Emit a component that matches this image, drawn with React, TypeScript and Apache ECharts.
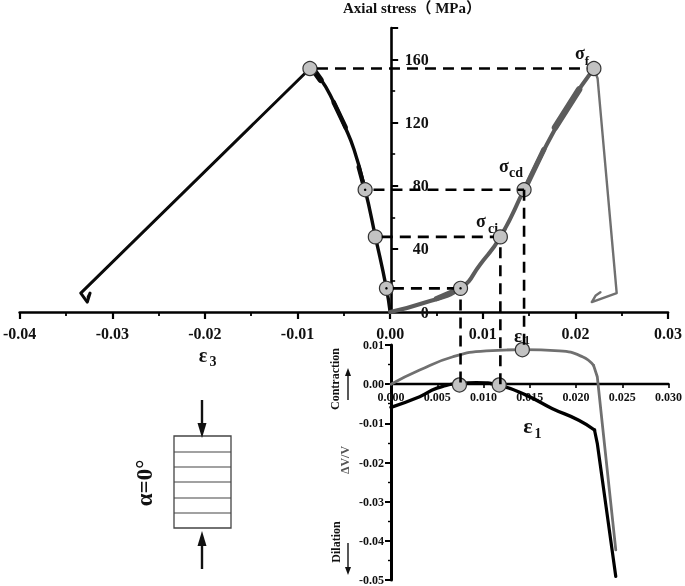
import React, { useEffect, useRef } from "react";
import * as echarts from "echarts";

const FONT = '"Liberation Serif", "Noto Sans CJK SC", serif';

// upper panel: axial stress (MPa) vs strain
const eps3Rise: number[][] = [[0, 0], [-0.0004, 15], [-0.0016, 48], [-0.0027, 77.5], [-0.0039, 103], [-0.005, 119], [-0.00607, 132.7], [-0.00747, 147.3], [-0.00866, 154.3]];
const eps3Noise1: number[][] = [[-0.0081, 152], [-0.0075, 147]];
const eps3Noise2: number[][] = [[-0.0061, 133], [-0.0048, 117]];
const eps3Noise3: number[][] = [[-0.0034, 92], [-0.0029, 81]];
const eps3Drop: number[][] = [[-0.00866, 154.3], [-0.0334, 12], [-0.0327, 6.3], [-0.0324, 12], [-0.0326, 9.5]];
const eps1Rise: number[][] = [[0, 0], [0.0036, 5.7], [0.0076, 15], [0.0097, 30], [0.0119, 47.6], [0.01446, 77.5], [0.0169, 106], [0.0194, 132], [0.022, 154.3]];
const eps1Noise1: number[][] = [[0.0178, 117], [0.0204, 141]];
const eps1Noise2: number[][] = [[0.0148, 81], [0.0166, 103]];
const eps1Noise3: number[][] = [[0.005, 8.5], [0.0072, 14]];
const eps1Drop: number[][] = [[0.022, 154.3], [0.0224, 148], [0.02446, 12], [0.02177, 6.3], [0.0222, 10.5], [0.0227, 12.5]];
const upperMarkers: number[][] = [[-0.00866, 154.3], [-0.0027, 77.5], [-0.0016, 47.6], [-0.0004, 15], [0.0076, 15], [0.0119, 47.6], [0.01446, 77.5], [0.022, 154.3]];
const upperDots: number[][] = [[-0.0027, 77.5], [-0.0004, 15], [0.0076, 15]];

// guide lines (strain, stress)
const guideF: number[][] = [[-0.0079, 154.3], [0.0213, 154.3]];
const guideCd: number[][] = [[-0.0018, 77.5], [0.01446, 77.5]];
const guideCi: number[][] = [[-0.0009, 47.6], [0.0112, 47.6]];
const guideStart: number[][] = [[0.0003, 15], [0.0069, 15]];
const guideV1: number[][] = [[0.0076, 8], [0.0076, -46.3]];
const guideV2: number[][] = [[0.0119, 41], [0.0119, -46.3]];
const guideV3: number[][] = [[0.01446, 77.5], [0.01446, -23.5]];

// lower panel: volumetric strain vs axial strain
const volGrayArch: number[][] = [[0, 0], [0.0031, 0.0036], [0.0067, 0.007], [0.0103, 0.0085], [0.0142, 0.0088], [0.0182, 0.0085], [0.0207, 0.007], [0.0219, 0.0048]];
const volGrayFall: number[][] = [[0.0219, 0.0048], [0.0223, 0.0019], [0.0228, -0.0092], [0.0243, -0.0423]];
const volBlackArch: number[][] = [[0, -0.0059], [0.0031, -0.0032], [0.0049, -0.0011], [0.0074, 0.0002], [0.0092, 0.0004], [0.0117, -0.0003], [0.0146, -0.0028], [0.0174, -0.0062], [0.0203, -0.0092], [0.022, -0.0117]];
const volBlackFall: number[][] = [[0.022, -0.0117], [0.0223, -0.0151], [0.0243, -0.0491]];
const lowerMarkers: number[][] = [[0.0074, -0.0002], [0.0117, -0.0002], [0.0142, 0.0088]];

const upperXTicks = { min: -0.04, max: 0.03, step: 0.01 };
const upperYTicks = { min: 0, max: 180, step: 40 };
const lowerXTicks = { min: 0, max: 0.03, step: 0.005 };
const lowerYTicks = { min: -0.05, max: 0.01, step: 0.01 };

function line(data: number[][], color: string, width: number, panel: number, extra: any = {}) {
  return {
    type: "line",
    data,
    xAxisIndex: panel,
    yAxisIndex: panel,
    symbol: "none",
    smooth: false,
    lineStyle: { color, width, cap: "round", join: "round" },
    z: 3,
    ...extra,
  };
}

function dashed(data: number[][]) {
  return line(data, "#000", 2.6, 0, {
    clip: false,
    z: 6,
    lineStyle: { color: "#000", width: 2.6, type: [11, 7] },
  });
}

function marks(data: number[][], panel: number) {
  return {
    type: "scatter",
    data,
    xAxisIndex: panel,
    yAxisIndex: panel,
    symbolSize: 14,
    clip: false,
    z: 5,
    itemStyle: { color: "#c2c2c2", borderColor: "#333", borderWidth: 1.2, opacity: 1 },
  };
}

function txt(text: string, x: number, y: number, size: number, extra: any = {}) {
  const { rotation, fill, ...rest } = extra;
  return {
    type: "text",
    x,
    y,
    rotation: rotation || 0,
    z: 1,
    style: {
      text,
      fill: fill || "#111",
      font: `bold ${size}px ${FONT}`,
      align: "center",
      verticalAlign: "middle",
    },
    ...rest,
  };
}

function arrow(x: number, from: number, to: number, head: number, halfWidth: number, width: number) {
  const dir = to > from ? 1 : -1;
  return [
    { type: "line", z: 1, shape: { x1: x, y1: from, x2: x, y2: to - dir * head * 0.6 }, style: { stroke: "#111", lineWidth: width } },
    {
      type: "polygon",
      z: 1,
      shape: { points: [[x, to], [x - halfWidth, to - dir * head], [x + halfWidth, to - dir * head]] },
      style: { fill: "#111" },
    },
  ];
}

const bandY = [452, 467, 482, 498, 513];

const axisBase = {
  type: "value",
  splitLine: { show: false },
};

export default function App() {
  const ref = useRef<HTMLDivElement>(null);
  useEffect(() => {
    const chart = echarts.init(ref.current!, undefined, { renderer: "svg" });
    chart.setOption({
      animation: false,
      backgroundColor: "#fff",
      textStyle: { fontFamily: FONT },
      grid: [
        { left: 18, right: 16, top: 28, height: 284 },
        { left: 391, right: 15, top: 345, height: 235 },
      ],
      xAxis: [
        {
          ...axisBase,
          gridIndex: 0,
          min: upperXTicks.min,
          max: upperXTicks.max,
          interval: upperXTicks.step,
          axisLine: { onZero: false, lineStyle: { color: "#000", width: 2.6 } },
          axisTick: { show: true, length: 7, lineStyle: { color: "#000", width: 2.2 } },
          minorTick: { show: true, splitNumber: 2, length: 4, lineStyle: { color: "#000", width: 1.8 } },
          axisLabel: { margin: 13, color: "#111", fontWeight: "bold", fontSize: 16, fontFamily: FONT, formatter: (v: number) => v.toFixed(2) },
        },
        {
          ...axisBase,
          gridIndex: 1,
          offset: -196,
          min: lowerXTicks.min,
          max: lowerXTicks.max,
          interval: lowerXTicks.step,
          axisLine: { onZero: false, lineStyle: { color: "#000", width: 2.4 } },
          axisTick: { show: true, length: 4, lineStyle: { color: "#000", width: 1.6 } },
          axisLabel: { margin: 7, color: "#111", fontWeight: "bold", fontSize: 12, fontFamily: FONT, formatter: (v: number) => v.toFixed(3) },
        },
      ],
      yAxis: [
        {
          ...axisBase,
          gridIndex: 0,
          offset: -371.5,
          min: upperYTicks.min,
          max: upperYTicks.max,
          interval: upperYTicks.step,
          axisLine: { onZero: false, lineStyle: { color: "#000", width: 2.6 } },
          axisTick: { show: true, inside: true, length: 7, lineStyle: { color: "#000", width: 2 } },
          minorTick: { show: true, splitNumber: 2, length: 4, lineStyle: { color: "#000", width: 1.6 } },
          axisLabel: { inside: true, margin: 37.5, align: "right", padding: [0, 0, 5, 0], showMaxLabel: false, color: "#111", fontWeight: "bold", fontSize: 16, fontFamily: FONT, formatter: (v: number) => String(v) },
        },
        {
          ...axisBase,
          gridIndex: 1,
          min: lowerYTicks.min,
          max: lowerYTicks.max,
          interval: lowerYTicks.step,
          axisLine: { onZero: false, lineStyle: { color: "#000", width: 3 } },
          axisTick: { show: true, length: 6, lineStyle: { color: "#000", width: 2 } },
          minorTick: { show: true, splitNumber: 2, length: 3, lineStyle: { color: "#000", width: 1.4 } },
          axisLabel: { margin: 7, color: "#111", fontWeight: "bold", fontSize: 12, fontFamily: FONT, formatter: (v: number) => v.toFixed(2) },
        },
      ],
      series: [
        line(eps3Drop, "#0a0a0a", 3, 0, { clip: false }),
        line(eps3Rise, "#0a0a0a", 3.4, 0, { smooth: 0.5 }),
        line(eps3Noise1, "#0a0a0a", 6, 0),
        line(eps3Noise2, "#0a0a0a", 4.6, 0),
        line(eps3Noise3, "#0a0a0a", 4.4, 0),
        line(eps1Drop, "#707070", 2.4, 0),
        line(eps1Rise, "#5c5c5c", 4, 0, { smooth: 0.5 }),
        line(eps1Noise1, "#5c5c5c", 6.5, 0),
        line(eps1Noise2, "#5c5c5c", 5.2, 0),
        line(eps1Noise3, "#5c5c5c", 5.2, 0),
        line(volGrayArch, "#707070", 2.8, 1, { smooth: 0.5 }),
        line(volGrayFall, "#707070", 2.8, 1),
        line(volBlackArch, "#000", 3.4, 1, { smooth: 0.5 }),
        line(volBlackFall, "#000", 3.2, 1),
        marks(upperMarkers, 0),
        marks(lowerMarkers, 1),
        {
          type: "scatter",
          data: upperDots,
          xAxisIndex: 0,
          yAxisIndex: 0,
          symbolSize: 2.5,
          z: 7,
          itemStyle: { color: "#000", opacity: 1 },
        },
        dashed(guideF),
        dashed(guideCd),
        dashed(guideCi),
        dashed(guideStart),
        dashed(guideV1),
        dashed(guideV2),
        dashed(guideV3),
      ],
      graphic: [
        txt("Axial stress（ MPa）", 412, 8, 15),
        txt("σ", 580, 53, 18),
        txt("f", 587, 60, 13),
        txt("σ", 504, 166, 18),
        txt("cd", 516, 172, 14),
        txt("σ", 481, 221, 18),
        txt("ci", 493, 228, 14),
        txt("ε", 203, 355, 20),
        txt("3", 213, 361, 14),
        txt("ε", 518, 335, 19),
        txt("1", 527, 340, 12),
        txt("ε", 528, 425, 22),
        txt("1", 538, 433, 14),
        txt("Contraction", 335, 379, 12, { rotation: Math.PI / 2 }),
        txt("ΔV/V", 345, 460, 12, { rotation: Math.PI / 2, fill: "#555" }),
        txt("Dilation", 336, 542, 12, { rotation: Math.PI / 2 }),
        txt("α=0°", 144, 483, 23, { rotation: Math.PI / 2 }),
        ...arrow(348, 400, 368, 8, 3, 1.4),
        ...arrow(348, 543, 575, 8, 3, 1.4),
        { type: "rect", z: 1, shape: { x: 174, y: 436, width: 57, height: 92 }, style: { fill: "#fff", stroke: "#444", lineWidth: 1.3 } },
        ...bandY.map((y) => ({ type: "line", z: 1, shape: { x1: 174, y1: y, x2: 231, y2: y }, style: { stroke: "#444", lineWidth: 1.2 } })),
        ...arrow(202, 400, 438, 15, 4.5, 2.4),
        ...arrow(202, 569, 531, 15, 4.5, 2.4),
      ],
    });
    return () => chart.dispose();
  }, []);
  return (
    <div
      ref={ref}
      style={{ position: "fixed", left: 0, top: 0, width: 685, height: 586, background: "#fff", filter: "blur(0.4px)" }}
    />
  );
}
